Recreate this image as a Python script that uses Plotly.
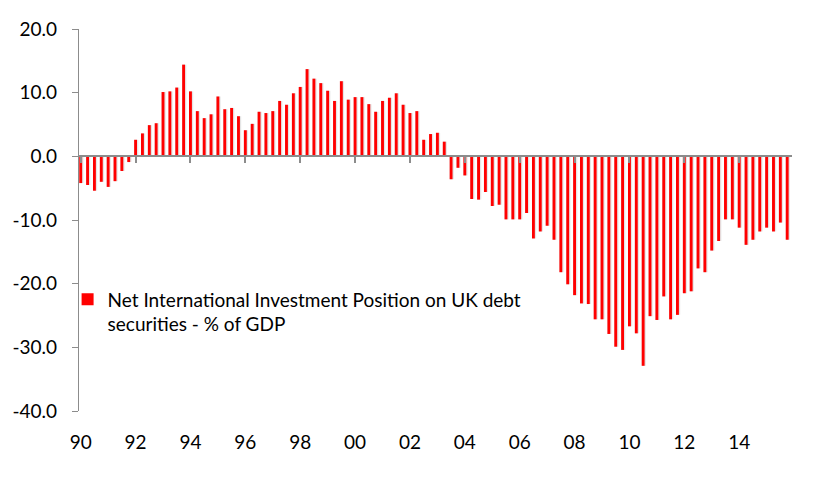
import plotly.graph_objects as go

years = list(range(1990, 2016))
quarters = [f"{y}Q{q}" for y in years for q in range(1, 5)]

values = [
    -4.2, -4.5, -5.4, -4.0, -4.8, -3.9, -2.3, -0.9,
    2.6, 3.6, 4.9, 5.2, 10.1, 10.2, 10.8, 14.4,
    10.2, 7.1, 6.0, 6.6, 9.4, 7.4, 7.6, 6.3,
    4.1, 5.1, 7.0, 6.8, 7.1, 8.7, 8.1, 9.9,
    10.9, 13.7, 12.2, 11.5, 10.3, 8.7, 11.8, 8.9,
    9.3, 9.3, 8.2, 7.0, 8.7, 9.2, 9.9, 8.1,
    6.8, 7.1, 2.6, 3.5, 3.7, 2.3, -3.6, -1.8,
    -3.0, -6.7, -6.8, -5.6, -7.8, -7.6, -9.9, -9.9,
    -9.9, -8.9, -12.9, -11.8, -10.9, -13.1, -18.2, -20.1,
    -21.8, -23.1, -23.2, -25.6, -25.6, -27.9, -29.9, -30.4,
    -26.7, -27.8, -32.9, -25.1, -25.7, -22.0, -25.6, -24.9,
    -21.5, -21.2, -17.6, -18.2, -14.8, -13.3, -9.9, -9.9,
    -11.2, -13.9, -13.1, -11.8, -11.2, -11.8, -10.4, -13.1,
]

tick_vals = ["1990Q1", "1992Q1", "1994Q1", "1996Q1", "1998Q1", "2000Q1", "2002Q1",
             "2004Q1", "2006Q1", "2008Q1", "2010Q1", "2012Q1", "2014Q1"]
tick_text = ["90", "92", "94", "96", "98", "00", "02", "04", "06", "08", "10", "12", "14"]

series_name = "Net International Investment Position on UK debt<br>securities - % of GDP"

FONT = "Lato"
GRAY = "#8c8c8c"
xrange = [-0.25, 103.7]

fig = go.Figure()

# soft shadow behind bars
fig.add_trace(go.Bar(
    x=quarters, y=values, width=0.62, offset=-0.22,
    marker=dict(color="rgba(0,0,0,0.10)", line=dict(width=0)),
    showlegend=False, hoverinfo="skip",
))
fig.add_trace(go.Bar(
    x=quarters, y=values, width=0.42, offset=-0.21,
    marker=dict(color="#ff0000", line=dict(width=0)),
    name=series_name,
))
# helper trace for axis at zero
fig.add_trace(go.Scatter(
    x=quarters, y=[0] * len(quarters), xaxis="x2", mode="lines",
    line=dict(width=0), showlegend=False, hoverinfo="skip",
))

fig.update_layout(
    width=825, height=488,
    margin=dict(l=79, r=33, t=29, b=77),
    paper_bgcolor="white", plot_bgcolor="white",
    barmode="overlay",
    font=dict(family=FONT, size=19, color="black"),
    xaxis=dict(
        type="category", range=xrange,
        tickmode="array", tickvals=tick_vals, ticktext=tick_text,
        showline=False, ticks="", showgrid=False, zeroline=False,
        ticklabelstandoff=18,
        tickfont=dict(family=FONT, size=19),
    ),
    xaxis2=dict(
        type="category", range=xrange, overlaying="x", anchor="free",
        position=40 / 60,
        tickmode="array", tickvals=tick_vals, ticktext=tick_text,
        showticklabels=False, showline=True, linecolor=GRAY, linewidth=2,
        ticks="outside", ticklen=6, tickwidth=2, tickcolor=GRAY,
        showgrid=False, zeroline=False,
    ),
    yaxis=dict(
        range=[-40, 20], tickmode="array",
        tickvals=[20, 10, 0, -10, -20, -30, -40],
        ticktext=["20.0", "10.0", "0.0", "-10.0", "-20.0", "-30.0", "-40.0"],
        showline=True, linecolor=GRAY, linewidth=1.3,
        ticks="outside", ticklen=6, tickwidth=1.3, tickcolor=GRAY,
        showgrid=False, zeroline=False,
        ticklabelstandoff=11,
        tickfont=dict(family=FONT, size=19),
    ),
    legend=dict(
        x=-0.016, y=0.342, xanchor="left", yanchor="top",
        bgcolor="rgba(0,0,0,0)", font=dict(family=FONT, size=19),
        valign="top",
    ),
)

fig.write_html("out.html", config={"displayModeBar": False},
               post_script="document.body.style.margin='0';")
